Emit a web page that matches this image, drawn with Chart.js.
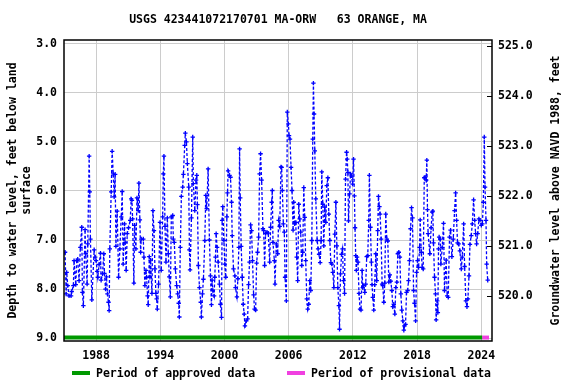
<!DOCTYPE html>
<html>
<head>
<meta charset="utf-8">
<script src="https://cdn.jsdelivr.net/npm/chart.js@4.4.1/dist/chart.umd.min.js"></script>
<style>
  html, body { margin: 0; padding: 0; background: #fff; }
</style>
</head>
<body>
<canvas id="gwChart" width="576" height="384"></canvas>
<script>
const chartTitle = 'USGS 423441072170701 MA-ORW   63 ORANGE, MA';
const leftAxisTitle = ['Depth to water level, feet below land', 'surface'];
const rightAxisTitle = 'Groundwater level above NAVD 1988, feet';
const legendLabels = ['Period of approved data', 'Period of provisional data'];

// axis ticks
const yearTicks = [1988, 1994, 2000, 2006, 2012, 2018, 2024];
const depthTicks = [3, 4, 5, 6, 7, 8, 9];
const elevTicks = [520, 521, 522, 523, 524, 525];

// data periods (decimal years)
const approvedSpan = [1985.0, 2024.08];
const provisionalSpan = [2024.08, 2024.72];

// field measurements, decimal year -> depth below land surface (ft)
const obsYears = [
  1985.10, 1985.20, 1985.25, 1985.35, 1985.47, 1985.66, 1985.72, 1985.88, 1985.94,
  1986.10, 1986.19, 1986.28, 1986.41, 1986.53, 1986.66, 1986.72, 1986.81, 1986.97,
  1987.03, 1987.16, 1987.22, 1987.35, 1987.41, 1987.47, 1987.60, 1987.82, 1987.91,
  1988.00, 1988.10, 1988.16, 1988.28, 1988.41, 1988.47, 1988.60, 1988.72, 1988.78, 1988.88, 1988.97,
  1989.06, 1989.16, 1989.22, 1989.28, 1989.41, 1989.50, 1989.60, 1989.69, 1989.78, 1989.85, 1989.97,
  1990.10, 1990.22, 1990.35, 1990.44, 1990.53, 1990.66, 1990.72, 1990.81, 1990.91,
  1991.03, 1991.19, 1991.28, 1991.35, 1991.41, 1991.53, 1991.60, 1991.72, 1991.82, 1991.94,
  1992.00, 1992.09, 1992.16, 1992.22, 1992.41, 1992.47, 1992.56, 1992.66, 1992.72, 1992.81, 1992.87, 1992.97,
  1993.03, 1993.09, 1993.22, 1993.31, 1993.41, 1993.50, 1993.59, 1993.66, 1993.72, 1993.84, 1993.97,
  1994.09, 1994.22, 1994.28, 1994.34, 1994.44, 1994.53, 1994.66, 1994.75, 1994.84, 1994.94,
  1995.03, 1995.16, 1995.22, 1995.31, 1995.41, 1995.53, 1995.63, 1995.72, 1995.78, 1995.87, 1995.97,
  1996.09, 1996.16, 1996.28, 1996.34, 1996.44, 1996.53, 1996.66, 1996.72, 1996.78, 1996.91,
  1997.03, 1997.09, 1997.22, 1997.34, 1997.41, 1997.47, 1997.56, 1997.66, 1997.78, 1997.84, 1997.94,
  1998.03, 1998.16, 1998.25, 1998.34, 1998.47, 1998.59, 1998.69, 1998.78, 1998.84, 1998.91,
  1999.03, 1999.09, 1999.16, 1999.22, 1999.31, 1999.41, 1999.53, 1999.62, 1999.72, 1999.78, 1999.84, 1999.94,
  2000.03, 2000.12, 2000.22, 2000.28, 2000.34, 2000.47, 2000.56, 2000.66, 2000.72, 2000.84, 2000.97,
  2001.03, 2001.16, 2001.25, 2001.34, 2001.41, 2001.47, 2001.56, 2001.66, 2001.75, 2001.84, 2001.91,
  2002.03, 2002.16, 2002.25, 2002.34, 2002.44, 2002.53, 2002.62, 2002.72, 2002.81, 2002.91,
  2003.00, 2003.09, 2003.19, 2003.28, 2003.37, 2003.47, 2003.59, 2003.66, 2003.75, 2003.84, 2003.97,
  2004.09, 2004.22, 2004.31, 2004.41, 2004.47, 2004.53, 2004.66, 2004.72, 2004.84, 2004.97,
  2005.06, 2005.16, 2005.28, 2005.34, 2005.41, 2005.50, 2005.59, 2005.66, 2005.78, 2005.87, 2005.97,
  2006.03, 2006.12, 2006.22, 2006.31, 2006.41, 2006.47, 2006.56, 2006.66, 2006.75, 2006.84, 2006.94,
  2007.03, 2007.12, 2007.22, 2007.31, 2007.41, 2007.50, 2007.59, 2007.69, 2007.78, 2007.87, 2007.97,
  2008.06, 2008.16, 2008.25, 2008.31, 2008.37, 2008.44, 2008.53, 2008.66, 2008.75, 2008.84, 2008.94,
  2009.03, 2009.09, 2009.19, 2009.28, 2009.37, 2009.47, 2009.56, 2009.66, 2009.75, 2009.84, 2009.94,
  2010.03, 2010.12, 2010.22, 2010.31, 2010.41, 2010.50, 2010.59, 2010.69, 2010.75, 2010.84, 2010.94,
  2011.03, 2011.12, 2011.22, 2011.31, 2011.41, 2011.47, 2011.53, 2011.59, 2011.69, 2011.78, 2011.87, 2011.97,
  2012.06, 2012.14, 2012.20, 2012.26, 2012.32, 2012.39, 2012.48, 2012.57, 2012.67, 2012.76, 2012.86, 2012.92,
  2013.01, 2013.11, 2013.20, 2013.29, 2013.39, 2013.48, 2013.54, 2013.64, 2013.73, 2013.79, 2013.86, 2013.95,
  2014.04, 2014.14, 2014.23, 2014.32, 2014.39, 2014.48, 2014.54, 2014.64, 2014.73, 2014.79, 2014.89, 2014.98,
  2015.07, 2015.17, 2015.26, 2015.36, 2015.45, 2015.54, 2015.64, 2015.73, 2015.82, 2015.92,
  2016.01, 2016.11, 2016.20, 2016.29, 2016.39, 2016.48, 2016.57, 2016.67, 2016.76, 2016.82, 2016.92,
  2017.01, 2017.11, 2017.20, 2017.29, 2017.39, 2017.48, 2017.57, 2017.67, 2017.76, 2017.86, 2017.95,
  2018.04, 2018.14, 2018.23, 2018.29, 2018.39, 2018.48, 2018.57, 2018.67, 2018.75, 2018.85, 2018.91, 2018.97,
  2019.03, 2019.19, 2019.31, 2019.41, 2019.47, 2019.53, 2019.63, 2019.72, 2019.78, 2019.88, 2019.94,
  2020.00, 2020.06, 2020.16, 2020.22, 2020.35, 2020.47, 2020.56, 2020.72, 2020.81, 2020.91,
  2021.03, 2021.13, 2021.25, 2021.38, 2021.50, 2021.60, 2021.69, 2021.78, 2021.88,
  2022.00, 2022.13, 2022.22, 2022.35, 2022.44, 2022.56, 2022.66, 2022.75, 2022.85, 2022.94,
  2023.06, 2023.16, 2023.28, 2023.38, 2023.47, 2023.56, 2023.66, 2023.78, 2023.88,
  2024.00, 2024.10, 2024.19, 2024.28, 2024.35, 2024.44, 2024.50, 2024.60
];
const obsDepths = [
  7.25, 8.10, 7.66, 7.93, 8.14, 8.14, 8.05, 7.93, 7.42,
  7.91, 7.42, 7.39, 7.83, 7.15, 6.74, 8.07, 8.34, 6.79,
  7.28, 7.90, 7.08, 5.29, 6.02, 6.98, 8.22, 7.20, 7.35,
  7.42, 7.64, 7.76, 7.50, 7.27, 7.82, 7.69, 7.28, 7.68, 8.00, 7.75,
  8.10, 8.27, 8.44, 7.18, 6.02, 5.19, 5.65, 6.12, 5.66, 7.13, 6.41,
  7.76, 7.18, 6.53, 6.01, 7.49, 6.67, 7.05, 7.62, 6.87,
  6.75, 6.60, 6.16, 6.19, 6.57, 7.88, 6.70, 7.18, 6.14, 6.40,
  5.84, 6.59, 7.25, 6.98, 6.98, 7.35, 7.93, 7.62, 7.76, 8.14, 8.32, 7.34,
  7.76, 7.41, 8.09, 6.40, 6.81, 7.59, 8.09, 8.20, 8.41, 7.90, 6.64,
  7.62, 6.53, 5.65, 5.29, 6.72, 7.45, 6.55, 7.28, 7.75, 8.16,
  6.53, 6.50, 6.98, 7.05, 7.59, 7.93, 8.10, 8.29, 8.57, 7.15, 6.11,
  5.92, 5.66, 5.07, 4.82, 5.00, 5.44, 5.92, 7.20, 7.61, 6.55,
  4.90, 5.85, 6.40, 5.78, 5.68, 6.28, 7.52, 7.97, 8.27, 8.57, 8.10,
  7.80, 7.01, 6.09, 6.36, 5.55, 7.00, 7.73, 8.32, 7.82, 8.03,
  8.14, 7.76, 7.35, 6.87, 7.15, 7.45, 7.90, 8.31, 8.58, 6.60, 6.32, 7.01,
  7.49, 7.76, 6.53, 6.04, 5.59, 5.68, 5.72, 6.23, 6.91, 7.59, 7.73,
  7.97, 8.16, 7.79, 7.15, 5.14, 6.14, 7.13, 7.76, 8.31, 8.51, 8.75,
  8.65, 8.61, 7.91, 7.45, 6.69, 6.81, 7.42, 8.12, 8.41, 8.43,
  7.47, 7.25, 6.94, 5.65, 5.24, 5.78, 6.77, 6.81, 7.52, 6.87, 6.84,
  6.86, 7.45, 6.74, 6.23, 5.99, 7.05, 7.42, 7.90, 7.08, 7.28,
  6.60, 6.72, 5.51, 5.52, 5.99, 6.67, 6.84, 7.76, 8.24, 4.39, 4.63,
  4.87, 4.94, 5.52, 5.99, 6.80, 6.23, 6.67, 6.64, 7.35, 7.83, 6.27,
  6.57, 6.84, 7.52, 7.25, 5.93, 6.54, 7.42, 8.20, 8.41, 8.31, 7.83,
  8.03, 7.01, 4.94, 3.80, 4.43, 5.18, 6.16, 7.01, 7.18, 7.29, 7.46,
  7.01, 5.61, 6.27, 7.12, 6.33, 6.64, 5.89, 5.73, 6.47, 7.01, 7.46,
  7.49, 7.66, 7.97, 6.88, 6.23, 7.12, 7.97, 8.34, 8.82, 7.69, 7.29,
  7.18, 7.83, 8.09, 5.76, 5.21, 5.35, 5.62, 6.61, 6.06, 5.65, 5.69, 5.86,
  5.35, 6.10, 6.75, 7.32, 7.62, 7.35, 7.45, 8.09, 8.41, 8.43, 7.62, 7.97,
  7.93, 8.07, 7.90, 7.34, 7.32, 6.60, 5.68, 6.74, 7.45, 7.91, 8.17, 8.43,
  7.91, 7.28, 7.83, 6.81, 6.11, 6.32, 6.47, 6.98, 7.90, 7.93, 8.27, 7.88,
  6.47, 6.98, 7.02, 7.86, 7.71, 7.84, 8.03, 8.36, 8.31, 8.51,
  7.97, 7.86, 7.28, 7.25, 7.35, 8.10, 8.43, 8.65, 8.84, 8.75, 8.72,
  8.07, 8.03, 7.83, 7.42, 6.77, 6.34, 6.55, 8.03, 8.29, 8.65, 7.66,
  7.42, 7.56, 7.15, 6.59, 7.25, 7.56, 7.59, 5.73, 5.72, 5.78, 5.37, 6.38,
  6.87, 7.28, 6.75, 6.43, 6.41, 7.06, 7.76, 8.10, 8.63, 8.24, 8.48,
  7.18, 6.94, 6.98, 7.49, 7.15, 6.66, 8.03, 7.41, 8.14, 8.17,
  6.94, 6.80, 7.34, 6.98, 6.40, 6.04, 6.60, 7.06, 7.08,
  7.22, 7.59, 7.35, 6.67, 7.54, 8.24, 8.36, 8.20, 7.73, 7.09,
  6.91, 6.67, 6.18, 6.60, 6.87, 7.08, 6.87, 6.57, 6.60,
  6.70, 6.67, 6.23, 4.90, 5.92, 6.60, 7.49, 7.82
];

const FONT_FAMILY = '"DejaVu Sans Mono", "Liberation Mono", monospace';
const FONT = 'bold 11.5px ' + FONT_FAMILY;
const BAR_DEPTH = 8.99;

const gwPoints = obsYears.map((yr, i) => ({ x: yr, y: obsDepths[i] }));

function fixTicks(list) {
    return function (scale) {
        scale.ticks = list.map(v => ({ value: v }));
    };
}

const decorPlugin = {
    id: 'decor',
    afterDraw(chart) {
        const { ctx, chartArea: a, scales } = chart;
        const midY = (a.top + a.bottom) / 2;
        ctx.save();

        // frame
        ctx.strokeStyle = '#000';
        ctx.lineWidth = 1.5;
        ctx.strokeRect(a.left, a.top, a.right - a.left, a.bottom - a.top);

        // inward tick marks on the right axis
        ctx.lineWidth = 1;
        elevTicks.forEach(v => {
            const py = Math.round(scales.y2.getPixelForValue(v)) + 0.5;
            ctx.beginPath();
            ctx.moveTo(a.right - 5, py);
            ctx.lineTo(a.right, py);
            ctx.stroke();
        });

        ctx.fillStyle = '#000';
        ctx.font = FONT;
        ctx.textBaseline = 'middle';

        // title
        ctx.textAlign = 'center';
        ctx.fillText(chartTitle, (a.left + a.right) / 2, 20);

        // axis titles
        ctx.save();
        ctx.translate(13, midY);
        ctx.rotate(-Math.PI / 2);
        ctx.fillText(leftAxisTitle[0], 0, 0);
        ctx.fillText(leftAxisTitle[1], 0, 14);
        ctx.restore();

        ctx.save();
        ctx.translate(556, midY);
        ctx.rotate(-Math.PI / 2);
        ctx.fillText(rightAxisTitle, 0, 0);
        ctx.restore();

        // legend
        const legendY = 373;
        const items = [
            { x: 72, color: '#009900', text: legendLabels[0] },
            { x: 287, color: '#f040e0', text: legendLabels[1] }
        ];
        ctx.textAlign = 'left';
        items.forEach(it => {
            ctx.strokeStyle = it.color;
            ctx.lineWidth = 4;
            ctx.beginPath();
            ctx.moveTo(it.x, legendY);
            ctx.lineTo(it.x + 18, legendY);
            ctx.stroke();
            ctx.fillText(it.text, it.x + 24, legendY + 1);
        });

        ctx.restore();
    }
};

const ctx = document.getElementById('gwChart').getContext('2d');
window.gwChart = new Chart(ctx, {
    type: 'line',
    data: {
        datasets: [
            {
                label: 'Depth to water level',
                data: gwPoints,
                yAxisID: 'y',
                borderColor: '#0000ff',
                borderWidth: 1.3,
                borderDash: [3, 2],
                pointStyle: 'cross',
                pointRadius: 2.2,
                pointBorderWidth: 1.3,
                pointBorderColor: '#0000ff',
                pointBackgroundColor: '#0000ff',
                fill: false,
                tension: 0
            },
            {
                label: legendLabels[0],
                data: approvedSpan.map(v => ({ x: v, y: BAR_DEPTH })),
                yAxisID: 'y',
                borderColor: '#009900',
                borderWidth: 4,
                borderCapStyle: 'butt',
                pointRadius: 0,
                fill: false
            },
            {
                label: legendLabels[1],
                data: provisionalSpan.map(v => ({ x: v, y: BAR_DEPTH })),
                yAxisID: 'y',
                borderColor: '#f040e0',
                borderWidth: 4,
                borderCapStyle: 'butt',
                pointRadius: 0,
                fill: false
            }
        ]
    },
    options: {
        responsive: false,
        animation: false,
        layout: { padding: { top: 40, bottom: 0, left: 0, right: 0 } },
        plugins: {
            legend: { display: false },
            title: { display: false },
            tooltip: { enabled: false }
        },
        scales: {
            x: {
                type: 'linear',
                min: 1985.0,
                max: 2025.0,
                afterBuildTicks: fixTicks(yearTicks),
                afterFit: scale => { scale.height = 43; },
                grid: { color: '#cccccc', lineWidth: 1, drawTicks: false },
                border: { display: false },
                ticks: {
                    color: '#000',
                    font: { family: FONT_FAMILY, size: 11.5, weight: 'bold' },
                    padding: 8,
                    maxRotation: 0,
                    autoSkip: false,
                    callback: v => String(v)
                }
            },
            y: {
                position: 'left',
                reverse: true,
                min: 2.92,
                max: 9.06,
                afterBuildTicks: fixTicks(depthTicks),
                afterFit: scale => { scale.width = 64; },
                grid: { color: '#cccccc', lineWidth: 1, drawTicks: false },
                border: { display: false },
                ticks: {
                    color: '#000',
                    font: { family: FONT_FAMILY, size: 11.5, weight: 'bold' },
                    padding: 7,
                    callback: v => Number(v).toFixed(1)
                }
            },
            y2: {
                position: 'right',
                min: 519.1,
                max: 525.13,
                afterBuildTicks: fixTicks(elevTicks),
                afterFit: scale => { scale.width = 84; },
                grid: { drawOnChartArea: false, drawTicks: false },
                border: { display: false },
                ticks: {
                    color: '#000',
                    font: { family: FONT_FAMILY, size: 11.5, weight: 'bold' },
                    padding: 6,
                    callback: v => Number(v).toFixed(1)
                }
            }
        }
    },
    plugins: [decorPlugin]
});
</script>
</body>
</html>
